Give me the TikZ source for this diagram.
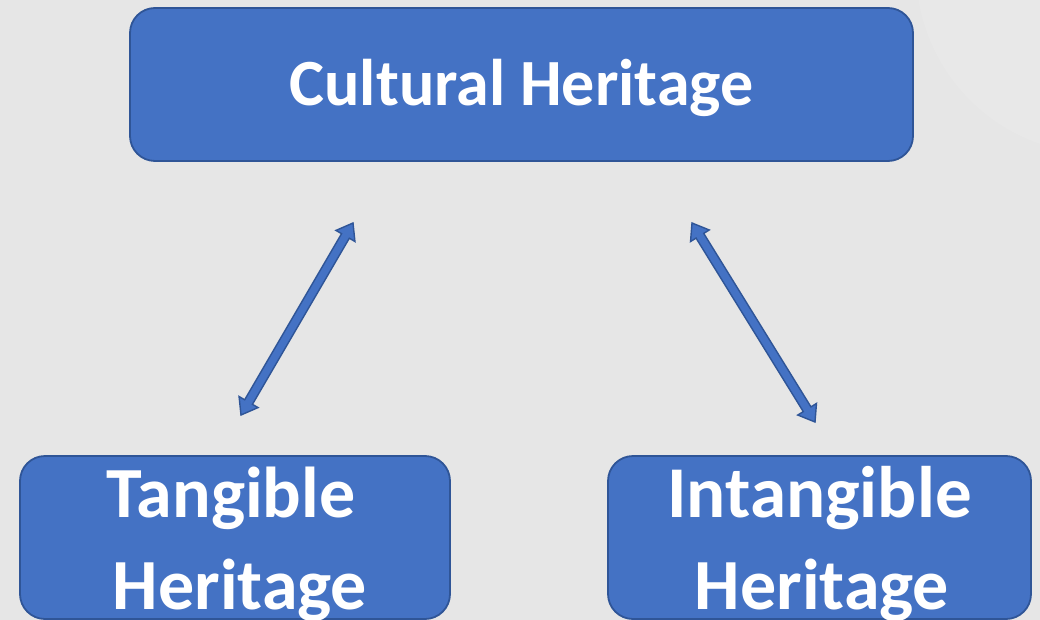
\documentclass[tikz,border=0pt]{standalone}
\usepackage{fontspec}
\setmainfont{Carlito}
\usetikzlibrary{calc}

\definecolor{paper}{HTML}{E6E6E6}
\definecolor{glow}{HTML}{E8E8E8}
\definecolor{boxfill}{HTML}{4472C4}
\definecolor{boxline}{HTML}{2F5597}

\tikzset{
  heritagebox/.style={fill=boxfill, draw=boxline, line width=1.8pt, rounded corners=25pt},
  boxtext/.style={text=white, font=\bfseries, inner sep=0pt, anchor=base},
  blockarrow/.style={fill=boxfill, draw=boxline, line width=1.4pt, line join=miter},
}

% double-headed block arrow between two named points
% (head length 15, head half-width 11, shaft half-width 4.5)
\newcommand\linkarrow[2]{%
  \draw[blockarrow] let \p1=(#1), \p2=(#2), \n1={atan2(\y2-\y1,\x2-\x1)} in
    (\p1)
    -- ($(\p1)+(\n1+36.25:18.60pt)$)
    -- ($(\p1)+(\n1+16.70:15.66pt)$)
    -- ($(\p2)+(\n1+163.30:15.66pt)$)
    -- ($(\p2)+(\n1+143.75:18.60pt)$)
    -- (\p2)
    -- ($(\p2)+(\n1+216.25:18.60pt)$)
    -- ($(\p2)+(\n1+196.70:15.66pt)$)
    -- ($(\p1)+(\n1-16.70:15.66pt)$)
    -- ($(\p1)+(\n1-36.25:18.60pt)$)
    -- cycle;}

\begin{document}
\begin{tikzpicture}[x=1pt, y=1pt]
  % canvas
  \fill[paper] (0,0) rectangle (1040,-620);
  \useasboundingbox (0,0) rectangle (1040,-620);
  \begin{scope}
    \clip (0,0) rectangle (1040,-620);
    \fill[glow] (1100,30) circle (184);
  \end{scope}

  % boxes
  \draw[heritagebox] (130,-8) rectangle (913,-161);
  \draw[heritagebox] (20,-456) rectangle (450,-619);
  \draw[heritagebox] (608,-456) rectangle (1031,-619);

  % labels
  \node[boxtext, font=\fontsize{66}{66}\bfseries] (cultural) at (521.5,-106) {Cultural Heritage};
  \node[boxtext, font=\fontsize{72}{72}\bfseries] (tangA) at (231,-517) {Tangible};
  \node[boxtext, font=\fontsize{72}{72}\bfseries] (tangB) at (240,-609) {Heritage};
  \node[boxtext, font=\fontsize{73}{73}\bfseries] (intA) at (819.5,-517) {Intangible};
  \node[boxtext, font=\fontsize{72}{72}\bfseries] (intB) at (822,-609) {Heritage};

  % arrow end points
  \coordinate (lt) at (353,-223);
  \coordinate (lb) at (241,-415);
  \coordinate (rt) at (692,-223);
  \coordinate (rb) at (815,-422);

  \linkarrow{lt}{lb}
  \linkarrow{rt}{rb}
\end{tikzpicture}
\end{document}
